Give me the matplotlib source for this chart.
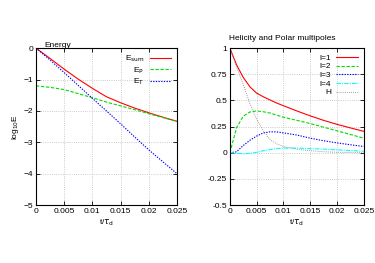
import matplotlib.pyplot as plt
import numpy as np

plt.rcParams['font.family'] = ['Liberation Sans', 'DejaVu Sans']
plt.rcParams['font.size'] = 6

# time axis (t / tau_d), energy panel
t = [0, 0.0025, 0.005, 0.0075, 0.01, 0.0125, 0.015, 0.0175, 0.02, 0.0225, 0.025]

# log10 energies
e_sum = [0, -0.33, -0.67, -0.99, -1.28, -1.55, -1.74, -1.91, -2.06, -2.20, -2.33]
e_p = [-1.20, -1.25, -1.32, -1.45, -1.58, -1.72, -1.84, -1.96, -2.09, -2.21, -2.34]
e_t = [0, -0.38, -0.78, -1.19, -1.60, -2.00, -2.41, -2.83, -3.24, -3.62, -4.00]

# time axis, multipole panel
t2 = [0, 0.00125, 0.0025, 0.00375, 0.005, 0.00625, 0.0075, 0.00875, 0.01,
      0.0125, 0.015, 0.0175, 0.02, 0.0225, 0.025]

# helicity and polar multipoles
l1 = [1.0, 0.84, 0.72, 0.63, 0.57, 0.535, 0.505, 0.475, 0.45, 0.40, 0.353, 0.31, 0.272, 0.238, 0.205]
l2 = [0.0, 0.24, 0.35, 0.39, 0.40, 0.392, 0.38, 0.36, 0.34, 0.31, 0.28, 0.245, 0.21, 0.175, 0.14]
l3 = [0.0, 0.01, 0.07, 0.12, 0.16, 0.19, 0.20, 0.20, 0.19, 0.17, 0.14, 0.115, 0.095, 0.077, 0.06]
l4 = [0.0, -0.005, -0.01, -0.005, 0.005, 0.02, 0.03, 0.04, 0.045, 0.045, 0.04, 0.035, 0.028, 0.022, 0.015]
hel = [1.0, 0.82, 0.65, 0.47, 0.32, 0.21, 0.125, 0.085, 0.06, 0.035, 0.02, 0.01, 0.005, 0.002, 0.0]

fig = plt.figure(figsize=(3.75, 2.63), dpi=100)
ax1 = fig.add_axes([0.096, 0.22, 0.376, 0.597])
ax2 = fig.add_axes([0.613, 0.22, 0.357, 0.597])

ax1.plot(t, e_sum, color='red', lw=0.8, label=r'E$_{\rm sum}$')
ax1.plot(t, e_p, color='#00dd00', lw=0.8, ls=(0, (3, 1.5)), label=r'E$_{\rm P}$')
ax1.plot(t, e_t, color='blue', lw=0.8, ls=(0, (1.2, 1.2)), label=r'E$_{\rm T}$')
ax1.set_ylim(-5, 0)
ax1.set_yticks([0, -1, -2, -3, -4, -5])
ax1.set_ylabel(r'log$_{10}$E', labelpad=2)
ax1.text(0.06, 1.01, 'Energy', transform=ax1.transAxes, fontsize=6)

ax2.plot(t2, l1, color='red', lw=0.8, label='l=1')
ax2.plot(t2, l2, color='#00dd00', lw=0.8, ls=(0, (3, 1.5)), label='l=2')
ax2.plot(t2, l3, color='blue', lw=0.8, ls=(0, (1.2, 1.2)), label='l=3')
ax2.plot(t2, l4, color='cyan', lw=0.8, ls=(0, (4, 1, 1, 1)), label='l=4')
ax2.plot(t2, hel, color='gray', lw=0.6, ls=(0, (1, 1.5)), label='H')
ax2.set_ylim(-0.5, 1)
ax2.set_yticks([1, 0.75, 0.5, 0.25, 0, -0.25, -0.5])
ax2.set_yticklabels(['1', '0.75', '0.5', '0.25', '0', '-0.25', '-0.5'])
ax2.text(-0.01, 1.05, 'Helicity and Polar multipoles', transform=ax2.transAxes, fontsize=6)

for ax in (ax1, ax2):
    ax.set_xlim(0, 0.025)
    ax.set_xticks([0, 0.005, 0.01, 0.015, 0.02, 0.025])
    ax.set_xticklabels(['0', '0.005', '0.01', '0.015', '0.02', '0.025'])
    ax.set_xlabel(r't/$\tau_{\rm d}$', labelpad=2)
    ax.grid(True, color='#bbbbbb', ls=':', lw=0.6)
    ax.tick_params(direction='in', top=True, right=True, length=3, width=0.6, pad=2)
    for s in ax.spines.values():
        s.set_linewidth(0.8)
    ax.legend(loc='upper right', frameon=False, markerfirst=False, fontsize=6,
              handlelength=2.6, labelspacing=0.1, borderaxespad=0.3, handletextpad=0.6)

fig.savefig('out.png', dpi=100)
